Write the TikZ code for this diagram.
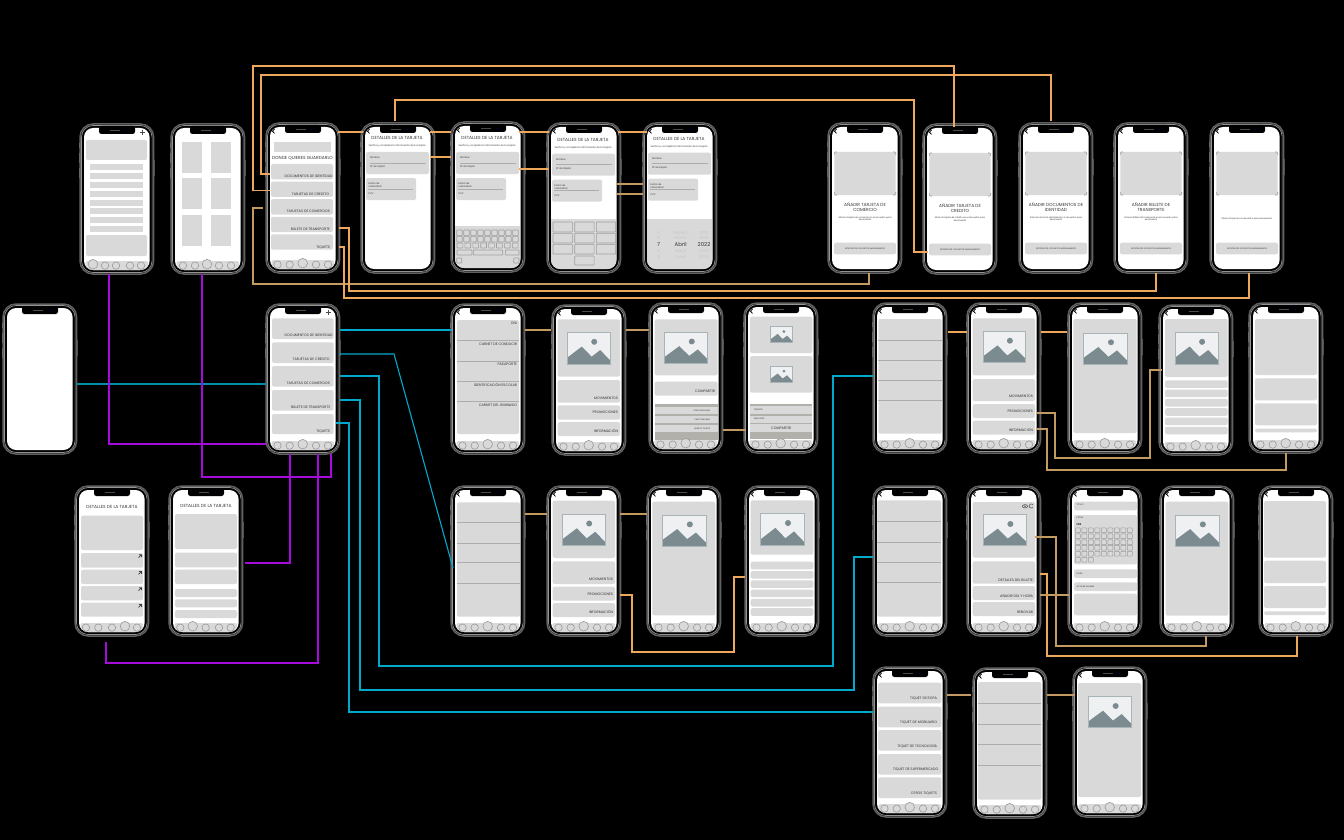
\documentclass[tikz,border=0pt]{standalone}
\usepackage{fontspec}
\setmainfont{Poppins}
\definecolor{gbx}{HTML}{D9D9D9}
\definecolor{band}{HTML}{B2B0AA}
\definecolor{ol}{HTML}{EDA85C}
\definecolor{oldark}{HTML}{C39A62}
\definecolor{cy}{HTML}{00A9CC}
\definecolor{tl}{HTML}{008FA8}
\definecolor{vi}{HTML}{A50CDC}
\definecolor{mtn}{HTML}{7C8B90}
\definecolor{mtnb}{HTML}{A8B4B8}
\definecolor{sky}{HTML}{EEF0F2}
\newcounter{tn}
\tikzset{
  phonebody/.style={draw=black!62,line width=.75pt,fill=black,rounded corners=6.5pt,minimum width=36.8pt,minimum height=75pt,inner sep=0pt,outer sep=0pt},
  tx/.style={inner sep=0pt,outer sep=0pt,text=black!80,font=\fontsize{1.75pt}{2.1pt}\selectfont},
  tsmall/.style={tx,font=\fontsize{1.2pt}{1.5pt}\selectfont},
  tnano/.style={tx,font=\fontsize{1.05pt}{1.3pt}\selectfont},
  ttitle/.style={tx,font=\fontsize{2.2pt}{2.6pt}\selectfont,align=center},
  tfaint/.style={tx,text=black!22,font=\fontsize{2.1pt}{2.5pt}\selectfont},
  tbig/.style={tx,text=black!80,font=\fontsize{2.7pt}{3.2pt}\selectfont},
  sep/.style={draw=black!32,line width=.3pt},
  keycap/.style={draw=black!38,line width=.3pt,fill=gbx,rounded corners=.3pt},
  conO/.style={draw=ol,line width=.55pt},
  conD/.style={draw=oldark,line width=.6pt},
  conC/.style={draw=cy,line width=.55pt},
  conT/.style={draw=tl,line width=.65pt},
  conV/.style={draw=vi,line width=.55pt},
}
\newcommand\lblR[4][tx]{\stepcounter{tn}\node[#1,anchor=east] (txt\arabic{tn}) at (#2,#3) {#4};}
\newcommand\lblL[4][tsmall]{\stepcounter{tn}\node[#1,anchor=west] (txt\arabic{tn}) at (#2,#3) {#4};}
\newcommand\lblC[4][ttitle]{\stepcounter{tn}\node[#1] (txt\arabic{tn}) at (#2,#3) {#4};}
\newcommand\gb[4]{\fill[gbx,rounded corners=1pt] (#1,#2) rectangle (#3,#4);}
\newcommand\phone[4]{\begin{scope}[shift={(#2,#3)}]
  \fill[black!55] (-.8,19) rectangle (.5,24) (-.8,29) rectangle (.5,39) (-.8,44) rectangle (.5,54) (73,36) rectangle (74.6,52);
  \node[phonebody] (#1) at (36.8,75) {};
  \draw[black!42,line width=.35pt,rounded corners=5.8pt] (1.5,1.5) rectangle (72.1,148.5);
  \fill[white,rounded corners=4.6pt] (4,4) rectangle (69.6,146);
  \fill[black,rounded corners=1.2pt] (19,2) rectangle (55,10);
  \fill[black!70] (30,6.3) rectangle (40,6.8);
  \fill[blue!50!black] (46,6.5) circle[radius=.3pt];
  #4
\end{scope}}
\newcommand\lowerfill[1]{\begin{scope}\clip[rounded corners=4.6pt] (4,4) rectangle (69.6,146);
  \fill[gbx] (4,#1) rectangle (69.6,146);\end{scope}}
\newcommand\navat[2]{\begin{scope}\clip[rounded corners=4.6pt] (4,4) rectangle (69.6,146);
  \fill[gbx,rounded corners=1pt] (5.5,137) rectangle (68,148);
  \foreach \cx in {#1} {\draw[black!40,line width=.3pt] (\cx,141.6) circle[radius=1.85pt];}
  \draw[black!40,line width=.3pt,fill=gbx] (#2,140.2) circle[radius=2.4pt];
\end{scope}}
\newcommand\navd{\navat{11.5,23.7,50,62}{36.7}}
\newcommand\backm{\draw[black,line width=.4pt] (8.5,6) -- (6.5,8.2) -- (8.5,10.4);}
\newcommand\plusm{\draw[black!70,line width=.4pt] (60,8.5) -- (65,8.5) (62.5,6) -- (62.5,11);}
\newcommand\imgph[4]{\begin{scope}[shift={(#1,#2)},xscale={(#3-#1)/100},yscale={(#4-#2)/100}]
  \fill[sky] (0,0) rectangle (100,100);
  \fill[mtn] (0,80) -- (34,45) -- (57,77) -- (77,56) -- (100,88) -- (100,100) -- (0,100) -- cycle;
  \fill[mtn] (63,30) circle[x radius=7,y radius=9.5];
  \draw[mtnb,line width=.4pt] (0,0) rectangle (100,100);
\end{scope}}
\newcommand\listscr[5]{\gb{#1}{#2}{#3}{#4}\foreach \sy in {#5} {\draw[sep] (#1,\sy) -- (#3,\sy);}}
\newcommand\cform[1]{\backm
  \lblC[ttitle]{36}{#1+15}{DETALLES DE LA TARJETA}
  \lblC[tsmall]{36}{#1+22.7}{Verifica y completa la información de tu tarjeta}
  \gb{5}{#1+29}{68}{#1+51}
  \lblL{9}{#1+35}{Nombre}\draw[sep] (9,#1+40) -- (65,#1+40);\lblL{9}{#1+44}{Nº de tarjeta}
  \gb{5}{#1+55}{55}{#1+77}
  \lblL[tsmall,align=left]{7.3}{#1+62}{Fecha de\\caducidad}\draw[sep] (7,#1+66) -- (52,#1+66);\lblL{7.3}{#1+71}{CVV}}
\newcommand\addcard[2]{\backm
  \gb{6.3}{29}{67.7}{72}
  \draw[black!40,line width=.3pt,rounded corners=.5pt] (6.3,32) |- (9,29) (65,29) -| (67.7,32) (67.7,69) |- (65,72) (9,72) -| (6.3,69);
  \lblC[ttitle]{37}{84.5}{#1}
  \lblC[tsmall,align=center,font=\fontsize{1.1pt}{1.35pt}\selectfont]{37}{95.5}{#2}
  \gb{6}{119.7}{68}{131.3}
  \lblC[tnano]{37}{125.5}{INTRODUCIR LOS DATOS MANUALMENTE}}
\begin{document}
\begin{tikzpicture}[x=.5pt,y=-.5pt]
\fill[black] (0,0) rectangle (1344,840);
\useasboundingbox (0,0) rectangle (1344,840);
% ---- row 1
\phone{p1}{80}{124}{\plusm \gb{6}{16}{67}{36}
  \foreach \ry in {40.3,49.1,57.9,66.7,75.5,84.3,93,101.8} {\fill[gbx] (10,\ry) rectangle (63,\ry+6);}
  \gb{6}{111}{67}{132}\navat{25,36,50,61}{13}}
\phone{p2}{171}{124}{\foreach \cxa in {11,40} {\foreach \rya in {18,54,91} {\fill[gbx] (\cxa,\rya) rectangle (\cxa+20,\rya+31);}}
  \navat{12,24,48,60}{36}}
\phone{p3}{266}{123}{\backm \fill[gbx] (8,19) rectangle (65,29);
  \lblC[ttitle]{36.5}{35.7}{DONDE QUIERES GUARDARLO}
  \gb{5}{41}{67}{56.3}\gb{5}{58.6}{67}{73.9}\gb{5}{76.2}{67}{91.5}\gb{5}{93.8}{67}{109.1}\gb{5}{111.4}{67}{126.7}
  \lblR{66.7}{53.5}{DOCUMENTOS DE IDENTIDAD}\lblR{63}{71}{TARJETAS DE CREDITO}\lblR{64}{88.5}{TARJETAS DE COMERCIOS}\lblR{64}{106.3}{BILLETE DE TRANSPORTE}\lblR{64}{124}{TIQUETS}
  \navd}
\phone{p4}{361}{123}{\cform{0}}
\phone{p5}{451}{122}{\cform{1}
  \lowerfill{103.7}
  \foreach \ki in {0,...,8} {\draw[keycap] (5.7+\ki*7,108) rectangle (11.2+\ki*7,113.7);\draw[keycap] (5.7+\ki*7,114.3) rectangle (11.2+\ki*7,120);}
  \foreach \ki in {0,...,7} {\draw[keycap] (6+\ki*7.9,121) rectangle (11.8+\ki*7.9,126);}
  \draw[keycap] (6,128) rectangle (21,133);\draw[keycap] (22.3,128) rectangle (51.7,133);\draw[keycap] (54.3,128) rectangle (68,133);
  \draw[keycap] (5.7,136) rectangle (10.7,141);\draw[keycap] (62.7,136) rectangle (68,141);}
\phone{p6}{547}{123}{\cform{1.7}
  \lowerfill{95.7}
  \foreach \kx in {6,27.7,49.3} {\draw[keycap] (\kx,99) rectangle (\kx+19.4,109);\draw[keycap] (\kx,110.3) rectangle (\kx+19.4,120);\draw[keycap] (\kx,121.3) rectangle (\kx+19.4,131);}
  \draw[keycap] (27.7,133) rectangle (47.1,142);}
\phone{p7}{643}{123}{\cform{.7}
  \lowerfill{95.7}
  \lblC[tfaint]{15.7}{109.7}{5}\lblC[tfaint]{37.7}{109.7}{Febrero}\lblC[tfaint]{61}{109.7}{2020}
  \lblC[tfaint]{15.7}{115.3}{6}\lblC[tfaint]{37.7}{115.3}{Marzo}\lblC[tfaint]{61}{115.3}{2021}
  \lblC[tbig]{15.7}{121.7}{7}\lblC[tbig]{37.7}{121.7}{Abril}\lblC[tbig]{61}{121.7}{2022}
  \lblC[tfaint]{15.7}{128.3}{8}\lblC[tfaint]{37.7}{128.3}{Mayo}\lblC[tfaint]{61}{128.3}{2023}
  \lblC[tfaint]{15.7}{134}{9}\lblC[tfaint]{37.7}{134}{Junio}\lblC[tfaint]{61}{134}{2024}}
\phone{p8}{828}{123}{\addcard{AÑADIR TARJETA DE\\COMERCIO}{Sitúa la tarjeta de comercio en el recuadro para\\escanearla}}
\phone{p9}{923}{124}{\addcard{AÑADIR TARJETA DE\\CREDITO}{Sitúa la tarjeta de crédito en el recuadro para\\escanearla}}
\phone{p10}{1019}{123}{\addcard{AÑADIR DOCUMENTOS DE\\IDENTIDAD}{Sitúa el carné de identidad en el recuadro para\\escanearlo}}
\phone{p11}{1114}{123}{\addcard{AÑADIR BILLETE DE\\TRANSPORTE}{Sitúa el billete de transporte en el recuadro para\\escanearlo}}
\phone{p12}{1210}{123}{\addcard{}{Sitúa el tiquet en el recuadro para escanearlo.}}
% ---- row 2
\phone{s0}{3}{304}{}
\phone{hub}{266}{304}{\plusm
  \gb{6}{14.3}{67.7}{35}\gb{6}{38.3}{67.7}{59}\gb{6}{62}{67.7}{82.7}\gb{6}{86}{67.7}{106.7}\gb{6}{110}{67.7}{130}
  \lblR{66.7}{31.7}{DOCUMENTOS DE IDENTIDAD}\lblR{63.7}{55.7}{TARJETAS DE CREDITO}\lblR{64}{79.3}{TARJETAS DE COMERCIOS}\lblR{64.3}{103.7}{BILLETE DE TRANSPORTE}\lblR{64}{127}{TIQUETS}
  \navd}
\phone{m1}{451}{304}{\backm \listscr{6}{16}{68}{130}{36.6,57,77,97}
  \lblR{66}{19.6}{DNI}\lblR{66}{40}{CARNET DE CONDUCIR}\lblR{66}{60}{PASAPORTE}\lblR{66}{81}{IDENTIFICACIÓN ESCOLAR}\lblR{66}{101}{CARNET DEL GIMNASIO}\navd}
\phone{m2}{552}{305}{\backm \gb{5.7}{14.3}{68}{71.7}\imgph{15.3}{27.3}{58}{59}
  \gb{5.7}{75}{68}{97.7}\gb{5.7}{100.3}{68}{114.7}\gb{5.7}{117}{68}{131}
  \lblR{66}{93}{MOVIMIENTOS}\lblR{66}{107.7}{PROMOCIONES}\lblR{66}{126}{INFORMACIÓN}\navd}
\phone{m3}{649}{303}{\backm \gb{5.7}{16.3}{68.7}{72.3}\imgph{15.7}{29.3}{58.7}{60}
  \gb{5.7}{78.7}{68.7}{92.7}\lblR{66}{88.7}{COMPARTIR}
  \fill[band] (5.7,101) rectangle (68.7,104);\fill[gbx] (5.7,104) rectangle (68.7,111);
  \fill[band] (5.7,111) rectangle (68.7,113);\fill[gbx] (5.7,113) rectangle (68.7,120);
  \fill[band] (5.7,120) rectangle (68.7,122);\fill[gbx] (5.7,122) rectangle (68.7,129.3);
  \fill[band] (5.7,129.3) rectangle (68.7,137);
  \lblR[tnano]{61}{107.5}{CASA SEVILLANA}\lblR[tnano]{61}{116.5}{CASA TRAVIESA}\lblR[tnano]{61}{125.7}{HUERTO CASOS}
  \navd}
\phone{m4}{744}{303}{\backm \gb{6}{13.7}{68.3}{50}\imgph{26.3}{23.7}{48}{39.7}\gb{6}{53}{68.3}{89.7}\imgph{26.3}{63.3}{48}{79.3}
  \fill[band] (6,100.5) rectangle (68.3,103);\fill[gbx] (6,103) rectangle (68.3,110.5);
  \fill[band] (6,110.5) rectangle (68.3,112.5);\fill[gbx] (6,112.5) rectangle (68.3,119.5);
  \fill[band] (6,119.5) rectangle (68.3,121);\fill[gbx] (6,121) rectangle (68.3,129.3);
  \fill[band] (6,129.3) rectangle (68.3,136);
  \lblL[tnano]{10}{107}{TARJETA}\lblL[tnano]{10}{116}{APELLIDOS}\lblC[tx]{37}{125.3}{COMPARTIR}\navd}
\phone{m5}{873}{303}{\backm \listscr{5.3}{16}{68.7}{130.7}{37.3,57.3,77.3,97.3}\navd}
\phone{m6}{967}{303}{\backm \gb{5.7}{15.3}{68}{72.3}\imgph{16}{28.3}{58.7}{59.7}
  \gb{5.7}{76}{68}{98}\gb{5.7}{101}{68}{115}\gb{5.7}{117.7}{68}{131.7}
  \lblR{66}{93.7}{MOVIMIENTOS}\lblR{66}{108.3}{PROMOCIONES}\lblR{66}{126.7}{INFORMACIÓN}\navd}
\phone{m7}{1068}{303}{\backm \gb{5.3}{16}{68.7}{130}\imgph{15.7}{30}{59}{61}\navd}
\phone{m8}{1159}{305}{\backm \gb{6}{14}{68.7}{72}\imgph{16}{27.3}{59}{59}
  \foreach \ry in {75.3,84.6,93.9,103.2,112.5,121.8} {\gb{6}{\ry}{68.7}{\ry+7.6}}\navd}
\phone{m9}{1249}{303}{\backm \gb{6}{16}{68}{72}\gb{6}{75.3}{68}{97.3}\gb{6}{100.3}{68}{122.3}\gb{6}{125.7}{68}{129.3}\navd}
% ---- row 3
\phone{b1}{75}{486}{\lblC[ttitle]{37}{21.3}{DETALLES DE LA TARJETA}
  \gb{6}{29.7}{68}{64}
  \foreach \ry/\ey in {67/81.7,83.7/98,100/114.3,116.7/130.7} {\gb{6}{\ry}{68}{\ey}
    \draw[black!75,line width=.35pt] (63.5,\ry+4.7) -- (66.5,\ry+1.7) (64,\ry+1.7) -- (66.5,\ry+1.7) -- (66.5,\ry+4.2);}
  \navat{11,23.3,37,62}{50}}
\phone{b2}{169}{486}{\lblC[ttitle]{37}{20}{DETALLES DE LA TARJETA}
  \gb{6}{28}{68}{63}\gb{6}{66.7}{68}{81.3}\gb{6}{83.7}{68}{98}\gb{6}{103}{68}{111}\gb{6}{113.3}{68}{121.3}\gb{6}{124}{68}{132}
  \navat{11.3,36.7,50,61.7}{23.7}}
\phone{n1}{451}{486}{\backm \listscr{6}{16.3}{69}{130.7}{36.7,57.3,76.7,97.3}\navd}
\phone{n2}{547}{486}{\backm \gb{5.7}{14.7}{68}{72}\imgph{15.3}{28}{58}{59.7}
  \gb{5.7}{75.3}{68}{98}\gb{5.7}{100.7}{68}{114.7}\gb{5.7}{117}{68}{131}
  \lblR{66}{93.5}{MOVIMIENTOS}\lblR{66}{108}{PROMOCIONES}\lblR{66}{126}{INFORMACIÓN}\navd}
\phone{n3}{647}{486}{\backm \gb{5.3}{15.7}{68.3}{129.3}\imgph{15.3}{29}{59}{60.3}\navd}
\phone{n4}{745}{486}{\backm \gb{5.7}{14.3}{68.3}{68.7}\imgph{15.7}{27.3}{59}{59.7}
  \foreach \ry in {75.7,85,94.3,103.6,112.9,122.2} {\gb{5.7}{\ry}{68.3}{\ry+7.6}}\navd}
\phone{n5}{873}{486}{\backm \listscr{4.3}{14.3}{68}{130.7}{35.3,56,76.3,96.7}\navd}
\phone{n6}{967}{486}{\backm \gb{5.7}{16}{68}{71.7}\imgph{16}{28.7}{59.5}{59.7}
  \gb{5.7}{75.3}{68}{97.7}\gb{5.7}{100}{68}{114}\gb{5.7}{116}{68}{130}
  \lblR{66}{94.3}{DETALLES DEL BILLETE}\lblR{66}{109.7}{AÑADIR DÍA Y HORA}\lblR{66}{126.3}{RENOVAR}
  \draw[black!65,line width=.3pt] (58,20.3) ellipse[x radius=2.6,y radius=1.7];\fill[black!65] (58,20.3) circle[radius=.45pt];
  \draw[black!65,line width=.3pt] (66,19) arc[start angle=30,end angle=320,radius=1.05pt];
  \navd}
\phone{n7}{1068}{486}{\backm \gb{6}{15.7}{69}{24.3}\lblL[tnano]{8.7}{18.3}{TITULO}
  \gb{6}{29}{69}{78.3}\lblL[tnano]{8.7}{32}{FECHA}
  \lblL[tsmall,font=\bfseries\fontsize{1.3pt}{1.5pt}\selectfont]{8.7}{38.3}{FEB}
  \foreach \cyy in {44.3,50.3,56.3,61.7,67.7} {\foreach \ci in {0,...,8} {\draw[keycap,fill=none] (7.3+\ci*6.5,\cyy-2.4) rectangle (12.3+\ci*6.5,\cyy+2.4);}}
  \foreach \ci in {0,1,2} {\draw[keycap,fill=none] (7.3+\ci*6.5,71.3) rectangle (12.3+\ci*6.5,76.1);}
  \gb{6}{83.3}{69}{92}\lblL[tnano]{8.7}{87.5}{HORA}
  \gb{6}{96.3}{69}{105}\lblL[tnano]{8.7}{100.5}{ACTIVAR ALARMA}
  \gb{6}{107.7}{69}{129.3}\navd}
\phone{n8}{1160}{486}{\backm \gb{5.7}{15.7}{68.3}{129.7}\imgph{15.3}{29}{59}{60.3}\navd}
\phone{n9}{1259}{486}{\backm \gb{5}{15}{67}{71.7}\gb{5}{74.7}{67}{97}\gb{5}{100}{67}{122}\gb{5}{125.3}{67}{129}\navd}
% ---- row 4
\phone{t1}{873}{667}{\backm \gb{5}{15.7}{68.3}{36.4}\gb{5}{39.7}{68.3}{60.4}\gb{5}{63}{68.3}{83.7}\gb{5}{87}{68.3}{107.7}\gb{5}{110.3}{68.3}{131}
  \lblR{64}{31.7}{TIQUET DE ROPA}\lblR{64}{55.7}{TIQUET DE MOBILIARIO}\lblR{64}{79.3}{TIQUET DE TECNOLOGÍA}\lblR{65.3}{102.3}{TIQUET DE SUPERMERCADO}\lblR{64}{126.7}{OTROS TIQUETS}\navd}
\phone{t2}{973}{668}{\backm \listscr{5}{14}{68.3}{131.7}{35.3,56.3,76.3,97.3}\navd}
\phone{t3}{1073}{667}{\backm \gb{5}{16}{68}{130}\imgph{15.3}{29.7}{58.7}{60.7}\navd}
% ---- connectors
\draw[conO] ([xshift=2pt]p3.west |- 0,190.7) -- (253,190.7) -- (253,66) -- (954,66) -- ([yshift=-1.5pt]954,0 |- p9.north);
\draw[conO] ([xshift=2pt]p3.west |- 0,174) -- (261,174) -- (261,75) -- (1051,75) -- ([yshift=1pt]1051,0 |- p10.north);
\draw[conO] ([yshift=1pt]395,0 |- p4.north) -- (395,100) -- (914,100) -- (914,252) -- ([xshift=2.5pt]p9.west |- 0,252);
\draw[conO] ([xshift=-1pt]p3.east |- 0,132) -- ([xshift=1pt]p4.west |- 0,132);
\draw[conO] ([xshift=-2.5pt]p4.east |- 0,132) -- (p5.west |- 0,132);
\draw[conO] ([xshift=-2.5pt]p4.east |- 0,157) -- (p5.west |- 0,157);
\draw[conO] ([xshift=-3pt]p5.east |- 0,132) -- ([xshift=1pt]p6.west |- 0,132);
\draw[conO] ([xshift=-3pt]p5.east |- 0,169) -- ([xshift=1pt]p6.west |- 0,169);
\draw[conO] ([xshift=-1.5pt]p6.east |- 0,132) -- ([xshift=2pt]p7.west |- 0,132);
\draw[conD] ([xshift=-2pt]p6.east |- 0,184) -- (p7.west |- 0,184);
\draw[conD] ([xshift=-2pt]p6.east |- 0,194) -- (p7.west |- 0,194);
\draw[conD] (263,208) -- (253,208) -- (253,284) -- (869,284) -- (869,0 |- p8.south);
\draw[conO] ([xshift=-.5pt]p3.east |- 0,228) -- (349,228) -- (349,291) -- (1156,291) -- (1156,0 |- p11.south);
\draw[conO] ([xshift=-.5pt]p3.east |- 0,247) -- (344,247) -- (344,298) -- (1249,298) -- (1249,0 |- p12.south);
\draw[conT] (s0.east |- 0,384) -- (hub.west |- 0,384);
\draw[conC] (hub.east |- 0,330) -- ([xshift=.5pt]m1.west |- 0,330);
\draw[conC] (hub.east |- 0,354) -- (394,354) -- ([xshift=1pt]n1.west |- 0,568);
\draw[conC] (hub.east |- 0,376) -- (379,376) -- (379,666) -- (833,666) -- (833,376) -- (m5.west |- 0,376);
\draw[conC] (hub.east |- 0,400) -- (360,400) -- (360,690) -- (854,690) -- (854,557) -- (n5.west |- 0,557);
\draw[conC] ([xshift=-2pt]hub.east |- 0,423) -- (349,423) -- (349,712) -- (t1.west |- 0,712);
\draw[conV] (109,0 |- p1.south) -- (109,444) -- (hub.west |- 0,444);
\draw[conV] (202,0 |- p2.south) -- (202,477) -- (331,477) -- (331,0 |- hub.south);
\draw[conV] (290,0 |- hub.south) -- (290,563) -- ([xshift=1pt]b2.east |- 0,563);
\draw[conV] (318,0 |- hub.south) -- (318,663) -- (106,663) -- ([yshift=-3pt]106,0 |- b1.south);
\draw[conD] (m1.east |- 0,330) -- ([xshift=-.5pt]m2.west |- 0,330);
\draw[conD] (m2.east |- 0,330) -- (m3.west |- 0,330);
\draw[conD] (m3.east |- 0,430) -- ([xshift=1pt]m4.west |- 0,430);
\draw[conD] (n1.east |- 0,514) -- (n2.west |- 0,514);
\draw[conD] ([xshift=-.5pt]n2.east |- 0,514) -- (n3.west |- 0,514);
\draw[conO] ([xshift=-.5pt]n2.east |- 0,595) -- (632,595) -- (632,652) -- (734,652) -- (734,577) -- (n4.west |- 0,577);
\draw[conO] ([xshift=.5pt]m5.east |- 0,332) -- (m6.west |- 0,332);
\draw[conO] (m6.east |- 0,332) -- ([xshift=-.5pt]m7.west |- 0,332);
\draw[conD] ([xshift=-2pt]m6.east |- 0,413) -- (1055,413) -- (1055,458) -- (1150,458) -- (1150,370) -- ([xshift=1.5pt]m8.west |- 0,370);
\draw[conD] ([xshift=-2pt]m6.east |- 0,429) -- (1047,429) -- (1047,470) -- (1286,470) -- (1286,0 |- m9.south);
\draw[conD] ([xshift=-3pt]n6.east |- 0,537) -- (1056,537) -- (1056,646) -- (1206,646) -- (1206,0 |- n8.south);
\draw[conO] ([xshift=-.5pt]n6.east |- 0,574) -- (1047,574) -- (1047,656) -- (1297,656) -- (1297,0 |- n9.south);
\draw[conD] ([xshift=-.5pt]n6.east |- 0,595) -- ([xshift=.5pt]n7.west |- 0,595);
\draw[conD] (t1.east |- 0,695) -- ([xshift=-1pt]t2.west |- 0,695);
\draw[conD] (t2.east |- 0,695) -- ([xshift=1pt]t3.west |- 0,695);
\end{tikzpicture}
\end{document}
